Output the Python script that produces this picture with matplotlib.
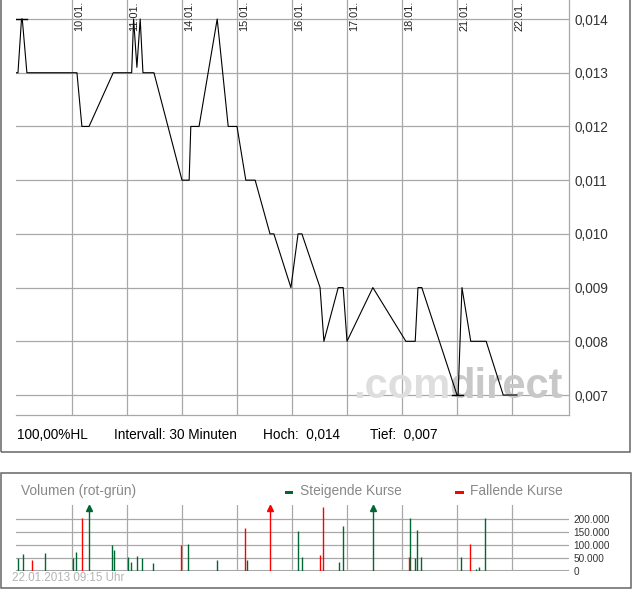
import numpy as np
import matplotlib.pyplot as plt
from matplotlib.patches import Rectangle

plt.rcParams['font.family'] = ['Liberation Sans', 'DejaVu Sans']

# x values are trading days counted from the 09.01. open (gridline k = day k)
day_labels = ['10.01.', '11.01.', '14.01.', '15.01.', '16.01.',
              '17.01.', '18.01.', '21.01.', '22.01.']
price_levels = [0.007, 0.008, 0.009, 0.010, 0.011, 0.012, 0.013, 0.014]

price_t = [-0.02, 0.018, 0.082, 0.096, 0.18, 1.09, 1.18, 1.31, 1.75, 2.085,
           2.12, 2.18, 2.24, 2.29, 2.49, 3.0, 3.13, 3.16, 3.31, 3.64,
           3.84, 4.0, 4.16, 4.33, 4.6, 4.67, 4.98, 5.11, 5.18, 5.51,
           5.58, 5.84, 5.93, 6.0, 6.47, 7.07, 7.24, 7.29, 7.36, 8.0,
           8.02, 8.09, 8.25, 8.53, 8.84, 9.09]
price_v = [0.013, 0.013, 0.014, 0.014, 0.013, 0.013, 0.012, 0.012, 0.013, 0.013,
           0.014, 0.0131, 0.014, 0.013, 0.013, 0.011, 0.011, 0.012, 0.012, 0.014,
           0.012, 0.012, 0.011, 0.011, 0.010, 0.010, 0.009, 0.010, 0.010, 0.009,
           0.008, 0.009, 0.009, 0.008, 0.009, 0.008, 0.008, 0.009, 0.009, 0.007,
           0.007, 0.009, 0.008, 0.008, 0.007, 0.007]

# volume (rising = green, falling = red); 300000 = off-scale (arrow)
vol_up_t = [0.024, 0.115, 0.515, 1.024, 1.078, 1.315, 1.733, 1.769, 2.024, 2.078,
            2.187, 2.278, 2.478, 3.115, 3.642, 4.187, 5.115, 5.187, 5.849, 5.933,
            6.478, 7.151, 7.242, 7.278, 7.351, 8.078, 8.351, 8.406, 8.515]
vol_up_v = [51000, 64000, 68000, 50000, 72000, 300000, 101000, 79000, 53000, 33000,
            56000, 50000, 29000, 103000, 41000, 41000, 153000, 53000, 33000, 172000,
            300000, 203000, 50000, 156000, 53000, 53000, 6000, 14000, 203000]
vol_down_t = [0.278, 1.187, 2.987, 4.151, 4.605, 5.515, 5.569, 7.122, 8.242]
vol_down_v = [41000, 203000, 101000, 164000, 300000, 60000, 246000, 53000, 103000]
vol_ticks = [0, 50000, 100000, 150000, 200000]

W, H = 632, 590
fig = plt.figure(figsize=(W / 100, H / 100), dpi=100)


def px_axes(x0, y0, x1, y1):
    # box in pixels, y counted from the top
    return fig.add_axes([x0 / W, 1 - y1 / H, (x1 - x0) / W, (y1 - y0) / H])


def fx(x):
    return x / W


def fy(y):
    return 1 - y / H


GRID = '#a8a8a8'
XLIM = (-0.018, 10.036)

# ---- price chart ----
ax = px_axes(16, 0, 569, 415)
ax.set_xlim(*XLIM)
ax.set_ylim(0.006628, 0.014354)
ax.set_xticks(range(1, len(day_labels) + 1))
ax.set_xticklabels([])
ax.set_yticks(price_levels)
ax.set_yticklabels([f'{v:.3f}'.replace('.', ',') for v in price_levels])
ax.yaxis.tick_right()
ax.tick_params(length=0, labelsize=9.8, labelcolor='#333333', pad=4.3)
ax.grid(color=GRID, lw=0.9)
for s in ['left', 'top']:
    ax.spines[s].set_visible(False)
for s in ['right', 'bottom']:
    ax.spines[s].set_color(GRID)
    ax.spines[s].set_linewidth(0.9)

ax.plot(price_t, price_v, color='black', lw=0.8, zorder=3)

# high / low caps
i_hi = int(np.argmax(price_v))
i_lo = int(np.argmin(price_v))
ax.plot([price_t[i_hi] - 0.11, price_t[i_hi] + 0.1], [price_v[i_hi]] * 2, color='black', lw=1.0, zorder=3)
ax.plot([price_t[i_lo] - 0.1, price_t[i_lo] + 0.1], [price_v[i_lo]] * 2, color='black', lw=1.0, zorder=3)

for k, lab in enumerate(day_labels, start=1):
    ax.text(k + 0.045, (415 - 31) / 415, lab, rotation=90, ha='left', va='bottom',
            transform=ax.get_xaxis_transform(), fontsize=7.8, color='#222222', clip_on=False)

# watermark
ax.text(fx(450), fy(398), '.com', transform=fig.transFigure, ha='right', va='baseline',
        fontsize=30, fontweight='bold', color='#dedede', zorder=1.8)
ax.text(fx(449), fy(398), 'direct', transform=fig.transFigure, ha='left', va='baseline',
        fontsize=30, fontweight='bold', color='#c8c8c8', zorder=1.8)

fig.text(fx(17), fy(435), '100,00%HL', fontsize=9.8, va='center')
fig.text(fx(114), fy(435), 'Intervall: 30 Minuten', fontsize=9.8, va='center')
fig.text(fx(263), fy(435), 'Hoch:  ' + f'{max(price_v):.3f}'.replace('.', ','), fontsize=9.8, va='center')
fig.text(fx(370), fy(435), 'Tief:  ' + f'{min(price_v):.3f}'.replace('.', ','), fontsize=9.8, va='center')

fig.add_artist(Rectangle((fx(1), fy(452)), (630 - 1) / W, 452 / H + 0.05, transform=fig.transFigure,
                         fill=False, edgecolor='#666666', lw=1.1))

# ---- volume chart ----
vx = px_axes(16, 505, 569, 571)
vmax = 252000
vx.set_xlim(*XLIM)
vx.set_ylim(0, vmax)
vx.set_xticks(range(1, len(day_labels) + 1))
vx.set_xticklabels([])
vx.set_yticks(vol_ticks)
vx.set_yticklabels([f'{v:,}'.replace(',', '.') for v in vol_ticks])
vx.yaxis.tick_right()
vx.tick_params(length=0, labelsize=7.2, labelcolor='#333333', pad=3)
vx.grid(color=GRID, lw=0.9)
for s in vx.spines.values():
    s.set_visible(False)
vx.axhline(0, color=GRID, lw=2.2, zorder=1.6)

for ts, vs, col in [(vol_up_t, vol_up_v, '#006633'), (vol_down_t, vol_down_v, '#ff0000')]:
    vs = np.array(vs)
    vx.vlines(ts, 0, np.minimum(vs, vmax), color=col, lw=1.0, zorder=3)
    big = vs > vmax
    vx.plot(np.array(ts)[big], np.full(big.sum(), 239000), '^', color=col,
            markersize=4.5, clip_on=False, zorder=4)

fig.text(fx(21), fy(491), 'Volumen (rot-grün)', fontsize=9.9, color='#888888', va='center')
fig.add_artist(Rectangle((fx(285), fy(493.5)), 8 / W, 3 / H, transform=fig.transFigure,
                         color='#006633', lw=0))
fig.text(fx(300), fy(491), 'Steigende Kurse', fontsize=9.9, color='#888888', va='center')
fig.add_artist(Rectangle((fx(455), fy(493.5)), 9 / W, 3 / H, transform=fig.transFigure,
                         color='#ff0000', lw=0))
fig.text(fx(470), fy(491), 'Fallende Kurse', fontsize=9.9, color='#888888', va='center')
fig.text(fx(12), fy(578), '22.01.2013 09:15 Uhr', fontsize=8.4, color='#b4b4b4', va='center')

fig.add_artist(Rectangle((fx(1), fy(587.5)), 630 / W, 115 / H, transform=fig.transFigure,
                         fill=False, edgecolor='#666666', lw=1.1))

fig.savefig('out.png', dpi=100)
